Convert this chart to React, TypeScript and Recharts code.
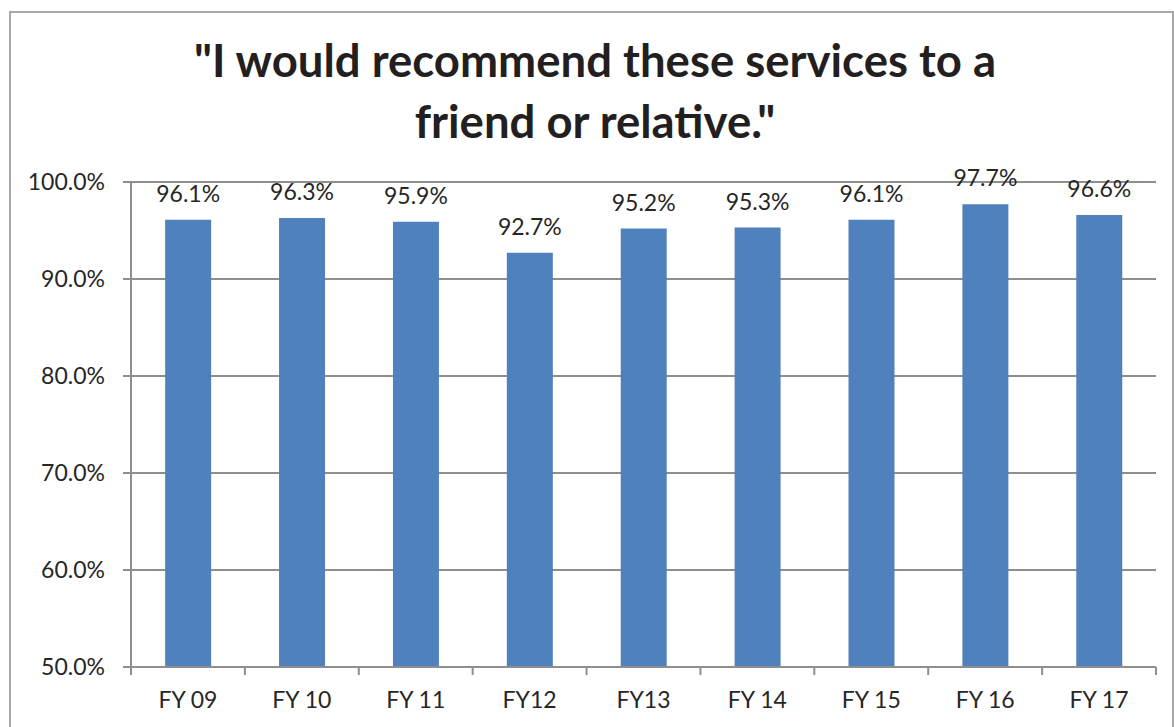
import { BarChart, Bar, XAxis, YAxis, CartesianGrid, LabelList } from 'recharts'

const categories = ['FY 09', 'FY 10', 'FY 11', 'FY12', 'FY13', 'FY 14', 'FY 15', 'FY 16', 'FY 17']
const recommendPct = [96.1, 96.3, 95.9, 92.7, 95.2, 95.3, 96.1, 97.7, 96.6]
const yTicks = [50, 60, 70, 80, 90, 100]

const titleLines = ['"I would recommend these services to a', 'friend or relative."']

const CHART_W = 1174
const CHART_H = 727
const MARGIN = { top: 182, right: 18, bottom: 20, left: 21 }
const Y_W = 110
const BAND = (CHART_W - MARGIN.left - MARGIN.right - Y_W) / categories.length
const AXIS_GRAY = '#8e8e8e'
const TEXT = '#262626'
const FONT = 'Lato, "Open Sans", sans-serif'
const LABEL_SIZE = 23

const data = categories.map((name, i) => ({ name, value: recommendPct[i] }))

const CategoryTick = (props: any) => {
  const { x, y, payload, index } = props
  const top = y - 8
  return (
    <g>
      <line x1={x - BAND / 2} x2={x - BAND / 2} y1={top} y2={y} stroke={AXIS_GRAY} strokeWidth={2} />
      {index === categories.length - 1 && (
        <line x1={x + BAND / 2} x2={x + BAND / 2} y1={top} y2={y} stroke={AXIS_GRAY} strokeWidth={2} />
      )}
      <text x={x} y={y + 33} textAnchor="middle" fill={TEXT} fontSize={LABEL_SIZE}>
        {payload.value}
      </text>
    </g>
  )
}

export default function App() {
  return (
    <div
      style={{
        position: 'absolute',
        top: 0,
        left: 0,
        width: CHART_W,
        height: CHART_H,
        overflow: 'hidden',
        background: '#fff',
        fontFamily: FONT,
      }}
    >
      <div
        style={{
          position: 'absolute',
          left: 9,
          top: 11,
          width: 1161,
          height: 800,
          border: '2px solid #a8a8a8',
        }}
      />
      <div
        style={{
          position: 'absolute',
          left: 0,
          top: 29,
          width: 1190,
          textAlign: 'center',
          fontWeight: 700,
          fontSize: 45.5,
          lineHeight: '61px',
          color: '#231f20',
        }}
      >
        {titleLines.map((t) => (
          <div key={t}>{t}</div>
        ))}
      </div>
      <div style={{ position: 'absolute', top: 0, left: 0 }}>
        <BarChart width={CHART_W} height={CHART_H} data={data} margin={MARGIN} barCategoryGap="30%">
          <CartesianGrid vertical={false} stroke={AXIS_GRAY} strokeWidth={2} />
          <XAxis
            dataKey="name"
            height={40}
            axisLine={{ stroke: AXIS_GRAY, strokeWidth: 2 }}
            tickLine={false}
            tickSize={8}
            tickMargin={0}
            interval={0}
            tick={<CategoryTick />}
          />
          <YAxis
            width={Y_W}
            domain={[50, 100]}
            ticks={yTicks}
            allowDataOverflow
            axisLine={{ stroke: AXIS_GRAY, strokeWidth: 2 }}
            tickLine={{ stroke: AXIS_GRAY, strokeWidth: 2 }}
            tickSize={8}
            tickMargin={18}
            tick={{ fill: TEXT, fontSize: LABEL_SIZE }}
            tickFormatter={(v: number) => `${v.toFixed(1)}%`}
          />
          <Bar dataKey="value" fill="#4f81bd" isAnimationActive={false}>
            <LabelList
              dataKey="value"
              position="top"
              offset={18}
              fill={TEXT}
              fontSize={LABEL_SIZE}
              formatter={(v: any) => `${Number(v).toFixed(1)}%`}
            />
          </Bar>
        </BarChart>
      </div>
    </div>
  )
}
